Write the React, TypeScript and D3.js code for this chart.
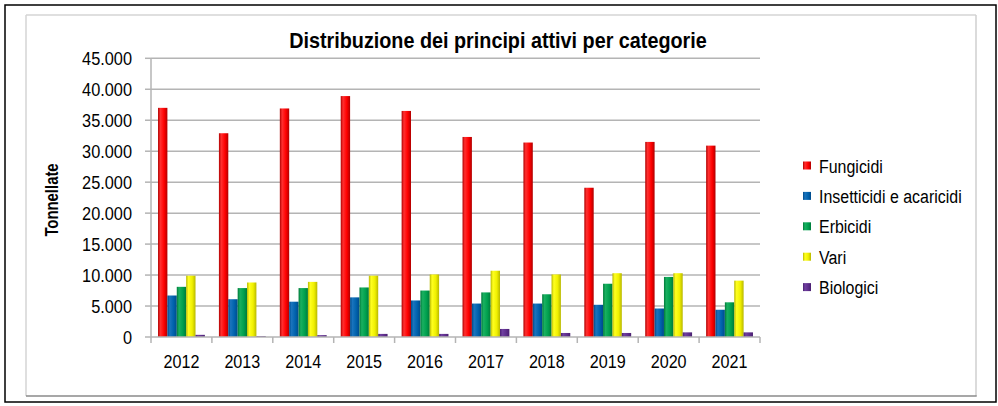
import React from 'react';
import * as d3 from 'd3';

const years = ['2012', '2013', '2014', '2015', '2016', '2017', '2018', '2019', '2020', '2021'];
const seriesNames = ['Fungicidi', 'Insetticidi e acaricidi', 'Erbicidi', 'Vari', 'Biologici'];
const fungicidi = [37000, 32900, 36900, 38900, 36500, 32300, 31400, 24100, 31500, 30900];
const insetticidi = [6700, 6100, 5700, 6400, 5900, 5400, 5400, 5200, 4600, 4400];
const erbicidi = [8100, 7900, 7900, 8000, 7500, 7200, 6900, 8600, 9700, 5600];
const vari = [9900, 8800, 8900, 9900, 10100, 10700, 10100, 10300, 10300, 9100];
const biologici = [350, 150, 300, 500, 500, 1300, 650, 650, 750, 750];
const yTicks = [0, 5000, 10000, 15000, 20000, 25000, 30000, 35000, 40000, 45000];
const title = 'Distribuzione dei principi attivi per categorie';
const yTitle = 'Tonnellate';

const seriesValues = [fungicidi, insetticidi, erbicidi, vari, biologici];
const colors = [
  { dark: '#b00000', base: '#ff0000', light: '#ff3030' },
  { dark: '#004a8a', base: '#0062ad', light: '#1a74bd' },
  { dark: '#007a3a', base: '#00a04e', light: '#19b060' },
  { dark: '#b8b800', base: '#f0f000', light: '#ffff20' },
  { dark: '#4a2070', base: '#5e2e8c', light: '#7040a0' },
];

const FONT = '"Liberation Sans", Arial, sans-serif';
const locale = d3.formatLocale({ decimal: ',', thousands: '.', grouping: [3], currency: ['', ''] });
const fmt = locale.format(',');

export default function App() {
  const plotL = 151, plotR = 760, plotT = 58.3, plotB = 337;
  const x0 = d3.scaleBand<string>().domain(years).range([plotL, plotR]).padding(0);
  const x1 = d3.scaleBand<string>().domain(seriesNames).range([0, x0.bandwidth()]).paddingInner(0).paddingOuter(0.75);
  const y = d3.scaleLinear().domain([0, 45000]).range([plotB, plotT]);
  const grid = '#b4b4b4';

  const boundaries = years.map((yr) => x0(yr) as number).concat([plotR]);

  return (
    <svg width={998} height={406} style={{ position: 'absolute', left: 0, top: 0, background: '#fff' }} fontFamily={FONT}>
      <defs>
        {colors.map((c, i) => (
          <linearGradient key={i} id={`g${i}`} x1="0" x2="1" y1="0" y2="0">
            <stop offset="0%" stopColor={c.dark} />
            <stop offset="25%" stopColor={c.light} />
            <stop offset="65%" stopColor={c.base} />
            <stop offset="100%" stopColor={c.dark} />
          </linearGradient>
        ))}
      </defs>
      <rect x={0} y={0} width={998} height={406} fill="#fff" />
      {/* outer border */}
      <rect x={5} y={5} width={991} height={397} fill="none" stroke="#000" strokeWidth={1.5} />
      {/* inner chart area */}
      <line x1={26} y1={15} x2={976} y2={15} stroke="#d4d4d4" strokeWidth={1.5} />
      <line x1={26} y1={15} x2={26} y2={396} stroke="#d4d4d4" strokeWidth={1.5} />
      <line x1={976} y1={15} x2={976} y2={396} stroke="#cfcfcf" strokeWidth={1.5} />
      <line x1={26} y1={396} x2={976.7} y2={396} stroke="#8a8a8a" strokeWidth={1.5} />

      {/* title */}
      <text transform={`translate(498,48) scale(0.9,1)`} textAnchor="middle" fontSize={22} fontWeight="bold" fill="#000">
        {title}
      </text>

      {/* gridlines */}
      {yTicks.map((t) => (
        <g key={t}>
          {t > 0 && <line x1={plotL} x2={plotR} y1={y(t)} y2={y(t)} stroke={grid} strokeWidth={1.5} />}
          <line x1={plotL - 6} x2={plotL} y1={y(t)} y2={y(t)} stroke={grid} strokeWidth={1.5} />
          <text transform={`translate(132,${y(t) + 6.7}) scale(0.86,1)`} textAnchor="end" fontSize={19} fill="#000">
            {fmt(t)}
          </text>
        </g>
      ))}

      {/* bars */}
      {years.map((yr, i) => (
        <g key={yr} transform={`translate(${x0(yr)},0)`}>
          {seriesNames.map((s, j) => {
            const v = seriesValues[j][i];
            return (
              <rect
                key={s}
                x={x1(s) as number}
                y={y(v)}
                width={x1.bandwidth()}
                height={plotB - y(v)}
                fill={`url(#g${j})`}
              />
            );
          })}
        </g>
      ))}

      {/* axes */}
      <line x1={plotL} x2={plotL} y1={plotT} y2={plotB} stroke={grid} strokeWidth={1.5} />
      <line x1={plotL} x2={plotR} y1={plotB} y2={plotB} stroke={grid} strokeWidth={1.5} />
      {boundaries.map((bx, i) => (
        <line key={i} x1={bx} x2={bx} y1={plotB} y2={plotB + 6} stroke={grid} strokeWidth={1.5} />
      ))}
      {years.map((yr) => (
        <text
          key={yr}
          transform={`translate(${(x0(yr) as number) + x0.bandwidth() / 2},368) scale(0.85,1)`}
          textAnchor="middle"
          fontSize={19}
          fill="#000"
        >
          {yr}
        </text>
      ))}

      {/* y title */}
      <text transform="translate(58,200) rotate(-90) scale(0.8,1)" textAnchor="middle" fontSize={18.6} fontWeight="bold" fill="#000">
        {yTitle}
      </text>

      {/* legend */}
      {seriesNames.map((s, j) => {
        const cy = 165.5 + j * 30.4;
        return (
          <g key={s}>
            <rect x={803} y={cy - 4} width={8} height={8} fill={`url(#g${j})`} />
            <text transform={`translate(819,${cy + 7}) scale(0.84,1)`} fontSize={19} fill="#000">
              {s}
            </text>
          </g>
        );
      })}
    </svg>
  );
}
